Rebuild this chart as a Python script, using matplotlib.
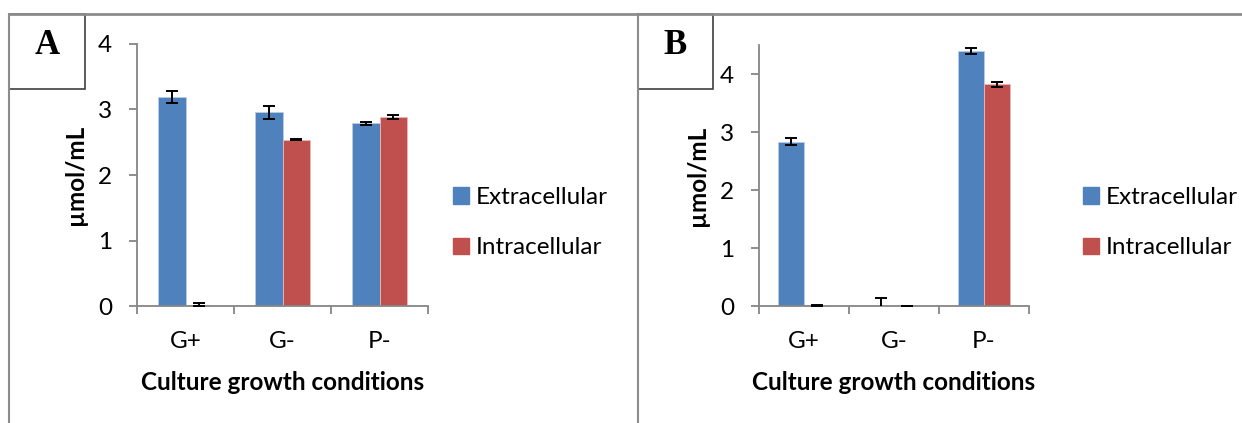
import matplotlib
matplotlib.use("Agg")
import matplotlib.pyplot as plt
from matplotlib.lines import Line2D
from matplotlib.patches import Rectangle, Patch
import numpy as np

plt.rcParams['font.family'] = ['Lato', 'DejaVu Sans']

# data per panel
conditions = ["G+", "G-", "P-"]
series_names = ["Extracellular", "Intracellular"]

a_extra = [3.19, 2.96, 2.79]
a_extra_err = [0.09, 0.10, 0.02]
a_intra = [0.02, 2.54, 2.88]
a_intra_err = [0.02, 0.01, 0.03]

b_extra = [2.83, 0.0, 4.40]
b_extra_err = [0.06, 0.14, 0.05]
b_intra = [0.01, 0.005, 3.82]
b_intra_err = [0.005, 0.003, 0.04]

BLUE = "#4F81BD"
RED = "#C0504D"
AXIS_GREY = "#868686"
FS = 17.5

W, H = 1242, 423
fig = plt.figure(figsize=(W / 100, H / 100), dpi=100)


def px_axes(left, top, right, bottom):
    return fig.add_axes([left / W, 1 - bottom / H, (right - left) / W, (bottom - top) / H])


def draw_panel(ax, extra, extra_err, intra, intra_err, ymax):
    x = np.arange(len(conditions))
    w = 1 / 3.5
    ax.bar(x - w / 2, extra, w, color=BLUE, edgecolor="#B9CDE5", linewidth=0.6, zorder=2)
    ax.bar(x + w / 2, intra, w, color=RED, edgecolor="#E6B9B8", linewidth=0.6, zorder=2)
    for xs, vals, errs in [(x - w / 2, extra, extra_err), (x + w / 2, intra, intra_err)]:
        ax.errorbar(xs, vals, yerr=errs, fmt="none", ecolor="black",
                    elinewidth=1.4, capsize=4, capthick=1.4, zorder=3)
    ax.set_xlim(-0.5, 2.5)
    ax.set_ylim(0, ymax)
    ax.set_yticks([0, 1, 2, 3, 4])
    ax.set_xticks(x)
    ax.set_xticklabels(conditions)
    ax.set_xticks([-0.5, 0.5, 1.5, 2.5], minor=True)
    ax.tick_params(axis="x", which="major", length=0, pad=18, labelsize=FS)
    ax.tick_params(axis="x", which="minor", length=5.8, width=1.3, color=AXIS_GREY, direction="out")
    ax.tick_params(axis="y", length=5.8, width=1.3, color=AXIS_GREY, labelsize=FS, pad=12)
    for s in ["top", "right"]:
        ax.spines[s].set_visible(False)
    for s in ["left", "bottom"]:
        ax.spines[s].set_color(AXIS_GREY)
        ax.spines[s].set_linewidth(1.3)
    ax.set_ylabel("µmol/mL", fontsize=FS, fontweight="bold", labelpad=8)
    ax.set_xlabel("Culture growth conditions", fontsize=FS, fontweight="bold", labelpad=14)


ax_a = px_axes(137, 44, 428, 306)
draw_panel(ax_a, a_extra, a_extra_err, a_intra, a_intra_err, 4)
ax_b = px_axes(759, 45, 1029, 306)
draw_panel(ax_b, b_extra, b_extra_err, b_intra, b_intra_err, 4.5)

# legends
handles = [Patch(color=BLUE), Patch(color=RED)]
for lx in (453 / W, 1083 / W):
    fig.legend(handles, series_names, loc="upper left", bbox_to_anchor=(lx, 1 - 187 / H),
               frameon=False, fontsize=FS, handlelength=0.65, handleheight=0.65,
               handletextpad=0.3, labelspacing=1.2, borderpad=0, borderaxespad=0)


# panel frames and letter boxes
def fline(x0, y0, x1, y1, color, lw):
    fig.add_artist(Line2D([x0 / W, x1 / W], [1 - y0 / H, 1 - y1 / H], color=color, lw=lw))


fline(9, 14, W, 14, "#8C8C8C", 2)
fline(9, 14, 9, H, "#8C8C8C", 1.5)
fline(638, 14, 638, H, "#8C8C8C", 1.5)

for (bx0, bx1, letter) in [(9, 85, "A"), (638, 713, "B")]:
    fig.add_artist(Rectangle((bx0 / W, 1 - 89 / H), (bx1 - bx0) / W, 75 / H,
                             facecolor="white", edgecolor="#404040", lw=1.2,
                             transform=fig.transFigure))
    fig.text((bx0 + bx1) / 2 / W, 1 - 45 / H, letter, fontsize=25, fontweight="bold",
             family="Liberation Serif", ha="center", va="center")

fig.savefig("out.png", dpi=100)
